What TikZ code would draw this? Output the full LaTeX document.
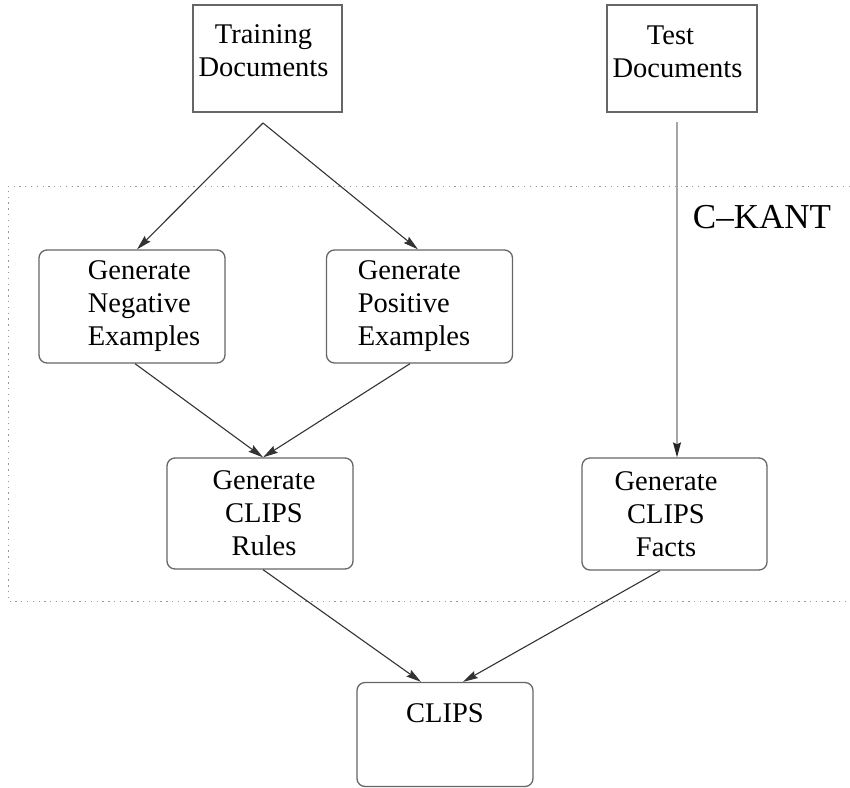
\documentclass[tikz,border=0pt]{standalone}
\usepackage{fontspec}
\setmainfont{Liberation Serif}
\usetikzlibrary{arrows.meta}
\begin{document}
\begin{tikzpicture}[x=1pt,y=-1pt,
  font=\fontsize{28.5}{33}\selectfont,
  sqbox/.style={draw=black!60,line width=1.3pt,inner sep=0pt,minimum width=#1},
  rbox/.style={draw=black!60,line width=1.3pt,rounded corners=8pt,inner sep=0pt,minimum width=#1},
  flow/.style={draw=black!80,line width=1.1pt,-{Stealth[length=15pt,width=8pt,inset=2pt]}},
  lightflow/.style={draw=black!35,line width=1.3pt,-{Stealth[length=15pt,width=8pt,inset=2pt,color=black!85]}},
  frame/.style={draw=black!40,line width=1pt,dash pattern=on 1.3pt off 4.5pt}
]
\useasboundingbox (0,0) rectangle (850,787);
% dotted C-KANT frame
\draw[frame] (850,186) -- (8,186) -- (8,601) -- (850,601);
\node[font=\fontsize{35}{40}\selectfont] (ckant) at (762,217) {C--KANT};
% boxes
\node[sqbox=149pt,minimum height=107pt,
  label={[align=center,xshift=-4pt,yshift=8pt]center:Training\\Documents}] (train) at (267.5,58.5) {};
\node[sqbox=150pt,minimum height=107pt,
  label={[align=center,xshift=-4.5pt,yshift=7pt]center:Test\hspace*{14pt}\\Documents}] (test) at (682,58.5) {};
\node[rbox=186pt,minimum height=113pt,
  label={[align=left,xshift=12pt]center:Generate\\Negative\\Examples}] (neg) at (132,306.5) {};
\node[rbox=186pt,minimum height=113pt,
  label={[align=left,xshift=-5.5pt]center:Generate\\Positive\\Examples}] (pos) at (419.5,306.5) {};
\node[rbox=186pt,minimum height=111pt,
  label={[align=center,xshift=4pt]center:Generate\\CLIPS\\Rules}] (rules) at (260,513.5) {};
\node[rbox=185pt,minimum height=112pt,
  label={[align=center,xshift=-8.5pt]center:Generate\\CLIPS\\Facts}] (facts) at (674.5,514) {};
\node[rbox=176pt,minimum height=104pt,
  label={[align=center,yshift=21.5pt]center:CLIPS}] (clips) at (445,734.5) {};
% connectors
\coordinate (tsplit) at (263,123);
\coordinate (tstart) at (677,122);
\draw[flow] (tsplit) -- ([xshift=5pt]neg.north);
\draw[flow] (tsplit) -- ([xshift=-1.5pt]pos.north);
\draw[lightflow] (tstart) -- (tstart |- facts.north);
\draw[flow] ([xshift=3pt]neg.south) -- ([xshift=3pt]rules.north);
\draw[flow] ([xshift=-9.5pt]pos.south) -- ([xshift=3pt]rules.north);
\draw[flow] ([xshift=3pt]rules.south) -- ([xshift=-24pt]clips.north);
\draw[flow] ([xshift=-14.5pt]facts.south) -- ([xshift=18pt]clips.north);
\end{tikzpicture}
\end{document}
